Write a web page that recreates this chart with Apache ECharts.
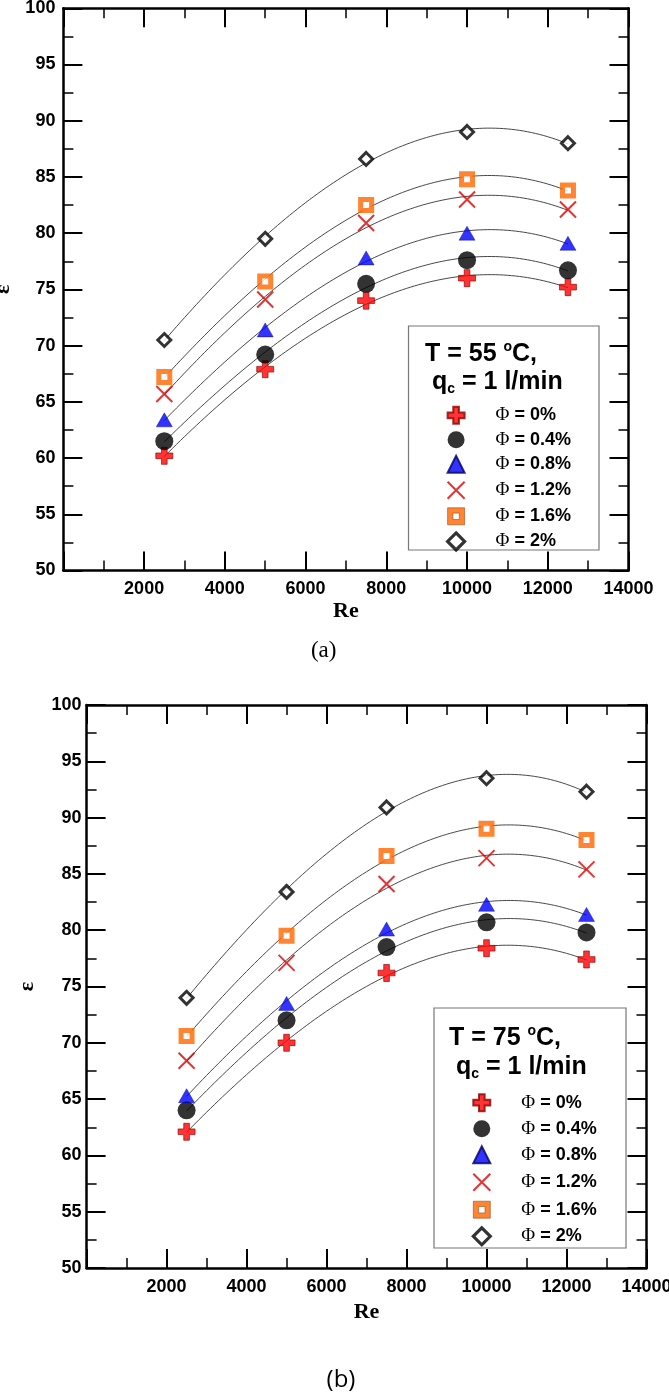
<!DOCTYPE html>
<html><head><meta charset="utf-8">
<script src="https://cdn.jsdelivr.net/npm/echarts@6/dist/echarts.min.js"></script>
<style>html,body{margin:0;padding:0;background:#fff}#c{width:669px;height:1395px}</style>
</head><body><div id="c"></div>
<script>
// ---------- data ----------
const reValues = [2500, 5000, 7500, 10000, 12500];
const seriesNames = ['Φ = 0%', 'Φ = 0.4%', 'Φ = 0.8%', 'Φ = 1.2%', 'Φ = 1.6%', 'Φ = 2%'];
const xTickMin = 0, xTickMax = 14000, xTickStep = 2000;
const yTickMin = 50, yTickMax = 100, yTickStep = 5;

// (a) T = 55 oC
const eps55_0  = [60.2, 67.9, 74.0, 76.0, 75.2];
const eps55_04 = [61.5, 69.2, 75.5, 77.6, 76.7];
const eps55_08 = [63.4, 71.4, 77.8, 80.0, 79.1];
const eps55_12 = [65.7, 74.1, 80.9, 83.0, 82.1];
const eps55_16 = [67.2, 75.7, 82.5, 84.8, 83.8];
const eps55_20 = [70.5, 79.5, 86.6, 89.0, 88.0];
// (b) T = 75 oC
const eps75_0  = [62.1, 70.0, 76.2, 78.4, 77.4];
const eps75_04 = [64.0, 72.0, 78.5, 80.7, 79.8];
const eps75_08 = [65.3, 73.5, 80.1, 82.3, 81.4];
const eps75_12 = [68.4, 77.1, 84.1, 86.4, 85.4];
const eps75_16 = [70.6, 79.5, 86.6, 89.0, 88.0];
const eps75_20 = [74.0, 83.4, 90.9, 93.5, 92.3];

const chartA = [eps55_0, eps55_04, eps55_08, eps55_12, eps55_16, eps55_20];
const chartB = [eps75_0, eps75_04, eps75_08, eps75_12, eps75_16, eps75_20];

// ---------- styles ----------
const markers = [
  {symbol: 'path://M4,0H8V4H12V8H8V12H4V8H0V4H4Z', symbolSize: 17, itemStyle: {color: '#ff0000', borderColor: '#8b0000', borderWidth: 0.8}},
  {symbol: 'circle', symbolSize: 18, itemStyle: {color: '#000', borderWidth: 0}},
  {symbol: 'triangle', symbolSize: [16, 14], itemStyle: {color: '#0000ff', borderColor: '#000066', borderWidth: 0.5}},
  {symbol: 'path://M0,0L12,12M12,0L0,12', symbolSize: 16, itemStyle: {color: 'none', borderColor: '#dd0000', borderWidth: 2}},
  {symbol: 'rect', symbolSize: 11, itemStyle: {color: '#fff', borderColor: '#ff6600', borderWidth: 5}},
  {symbol: 'diamond', symbolSize: 13, itemStyle: {color: '#fff', borderColor: '#000', borderWidth: 3}}
];

// least-squares cubic trend line through the measured points
function cubicFit(xs, ys) {
  const n = 4, A = [], b = [];
  for (let i = 0; i < n; i++) { A.push(new Array(n).fill(0)); b.push(0); }
  xs.forEach((x, k) => {
    for (let i = 0; i < n; i++) {
      b[i] += ys[k] * Math.pow(x, i);
      for (let j = 0; j < n; j++) A[i][j] += Math.pow(x, i + j);
    }
  });
  for (let i = 0; i < n; i++) {
    let p = i;
    for (let r = i + 1; r < n; r++) if (Math.abs(A[r][i]) > Math.abs(A[p][i])) p = r;
    [A[i], A[p]] = [A[p], A[i]]; [b[i], b[p]] = [b[p], b[i]];
    for (let r = i + 1; r < n; r++) {
      const f = A[r][i] / A[i][i];
      for (let c = i; c < n; c++) A[r][c] -= f * A[i][c];
      b[r] -= f * b[i];
    }
  }
  const c = new Array(n).fill(0);
  for (let i = n - 1; i >= 0; i--) {
    let s = b[i];
    for (let j = i + 1; j < n; j++) s -= A[i][j] * c[j];
    c[i] = s / A[i][i];
  }
  return c;
}
function trend(ys) {
  const ts = reValues.map(x => x / 10000);
  const c = cubicFit(ts, ys);
  const pts = [];
  const x0 = reValues[0], x1 = reValues[reValues.length - 1];
  for (let i = 0; i <= 100; i++) {
    const x = x0 + (x1 - x0) * i / 100, t = x / 10000;
    pts.push([x, c[0] + c[1] * t + c[2] * t * t + c[3] * t * t * t]);
  }
  return pts;
}

const labelFont = {fontFamily: 'Liberation Sans', fontWeight: 'bold', fontSize: 18, color: '#000'};
const tickStyle = {inside: true, length: 19, lineStyle: {color: '#000', width: 2}};
const minorStyle = {show: true, splitNumber: 2, length: 10, lineStyle: {color: '#000', width: 1.5}};
const lineStyleAx = {onZero: false, lineStyle: {color: '#000', width: 2.5}};

function makeX(gi, nameGap) {
  const base = {gridIndex: gi, type: 'value', min: xTickMin, max: xTickMax, interval: xTickStep,
    axisLine: lineStyleAx, axisTick: tickStyle, minorTick: minorStyle, splitLine: {show: false}};
  return [
    Object.assign({}, base, {position: 'bottom',
      axisLabel: Object.assign({margin: 10, formatter: v => v === 0 ? '' : String(v)}, labelFont),
      name: 'Re', nameLocation: 'middle', nameGap: nameGap,
      nameTextStyle: {fontFamily: 'Liberation Serif', fontWeight: 'bold', fontSize: 22, color: '#000'}}),
    Object.assign({}, base, {position: 'top', axisLabel: {show: false}})
  ];
}
function makeY(gi, margin, nameGap) {
  const base = {gridIndex: gi, type: 'value', min: yTickMin, max: yTickMax, interval: yTickStep,
    axisLine: lineStyleAx, axisTick: tickStyle, minorTick: minorStyle, splitLine: {show: false}};
  return [
    Object.assign({}, base, {position: 'left',
      axisLabel: Object.assign({margin: margin}, labelFont),
      name: 'ε', nameLocation: 'middle', nameGap: nameGap, nameRotate: 90,
      nameTextStyle: {fontFamily: 'Liberation Serif', fontWeight: 'bold', fontSize: 22, color: '#000'}}),
    Object.assign({}, base, {position: 'right', axisLabel: {show: false}})
  ];
}

const series = [];
[chartA, chartB].forEach((chart, gi) => {
  chart.forEach((ys, si) => {
    series.push({type: 'line', name: 'fit' + gi + '_' + si, xAxisIndex: gi * 2, yAxisIndex: gi * 2,
      data: trend(ys), showSymbol: false, symbol: 'none', smooth: false,
      lineStyle: {color: '#333', width: 0.9}, silent: true, z: 2});
  });
  chart.forEach((ys, si) => {
    const m = markers[si];
    series.push({type: 'scatter', name: seriesNames[si], xAxisIndex: gi * 2, yAxisIndex: gi * 2,
      data: reValues.map((x, k) => [x, ys[k]]),
      symbol: m.symbol, symbolSize: m.symbolSize, itemStyle: m.itemStyle, z: 5,
      emphasis: {disabled: true}});
  });
});

const legendData = seriesNames.map((n, i) => {
  const d = {name: n};
  if (i === 4) { d.icon = 'path://M0,0H16V16H0ZM5,5V11H11V5Z'; d.itemStyle = {color: '#ff6600', borderColor: '#7a3000', borderWidth: 0.6}; }
  if (i === 5) d.itemStyle = {borderWidth: 3.2};
  if (i === 3) d.itemStyle = {borderWidth: 2};
  return d;
});
const legendText = {
  rich: {
    p: {fontFamily: 'Liberation Serif', fontSize: 19, fontWeight: 'normal', color: '#000', lineHeight: 17, padding: [0, 0, 0, 26]},
    t: {fontFamily: 'Liberation Sans', fontSize: 18, fontWeight: 'bold', color: '#000', lineHeight: 17}
  }
};
const legendFmt = n => '{p|Φ}{t|' + n.slice(1) + '}';
function makeLegend(left, top, gap) {
  return {orient: 'vertical', left: left, top: top, padding: 0, itemWidth: 17, itemHeight: 17, itemGap: gap,
    selectedMode: false, data: legendData, formatter: legendFmt, textStyle: legendText, z: 20};
}

const titleRich = {
  m: {fontFamily: 'Liberation Sans', fontWeight: 'bold', fontSize: 25, lineHeight: 28, fill: '#000'},
  s: {fontFamily: 'Liberation Sans', fontWeight: 'bold', fontSize: 14, lineHeight: 18, verticalAlign: 'top', fill: '#000'},
  b: {fontFamily: 'Liberation Sans', fontWeight: 'bold', fontSize: 14, lineHeight: 12, verticalAlign: 'bottom', fill: '#000'}
};
function titleText(x, y, txt) {
  return {type: 'text', z: 30, x: x, y: y, style: {text: txt, rich: titleRich, verticalAlign: 'middle', align: 'left'}};
}

const option = {
  animation: false,
  backgroundColor: '#fff',
  grid: [
    {left: 63.4, top: 8.3, width: 565.1, height: 562.2, outerBoundsMode: 'none', containLabel: false},
    {left: 86.6, top: 705, width: 559.9, height: 563, outerBoundsMode: 'none', containLabel: false}
  ],
  xAxis: [].concat(makeX(0, 30), makeX(1, 33)),
  yAxis: [].concat(makeY(0, 8, 47), makeY(1, 5, 48)),
  legend: [makeLegend(445.1, 405.8, 5.5), makeLegend(470.8, 1093.2, 7)],
  series: series,
  graphic: [
    {type: 'rect', z: 10, shape: {x: 408.5, y: 326, width: 190.5, height: 224}, style: {fill: '#fff', stroke: '#777', lineWidth: 1.2}},
    {type: 'rect', z: 10, shape: {x: 434, y: 1008, width: 192, height: 240}, style: {fill: '#fff', stroke: '#777', lineWidth: 1.2}},
    titleText(425, 354.3, '{m|T = 55 }{s|o}{m|C,}'),
    titleText(432, 381.7, '{m|q}{b|c}{m| = 1 l/min}'),
    titleText(449, 1038.3, '{m|T = 75 }{s|o}{m|C,}'),
    titleText(456, 1067.5, '{m|q}{b|c}{m| = 1 l/min}'),
    {type: 'text', z: 30, x: 323.7, y: 651, style: {text: '(a)', font: '23px "Liberation Serif"', fill: '#000', align: 'center', verticalAlign: 'middle'}},
    {type: 'text', z: 30, x: 341, y: 1380, style: {text: '(b)', font: '24px "Open Sans"', fill: '#000', align: 'center', verticalAlign: 'middle'}}
  ]
};
const chart = echarts.init(document.getElementById('c'));
chart.setOption(option);
</script>
</body></html>
